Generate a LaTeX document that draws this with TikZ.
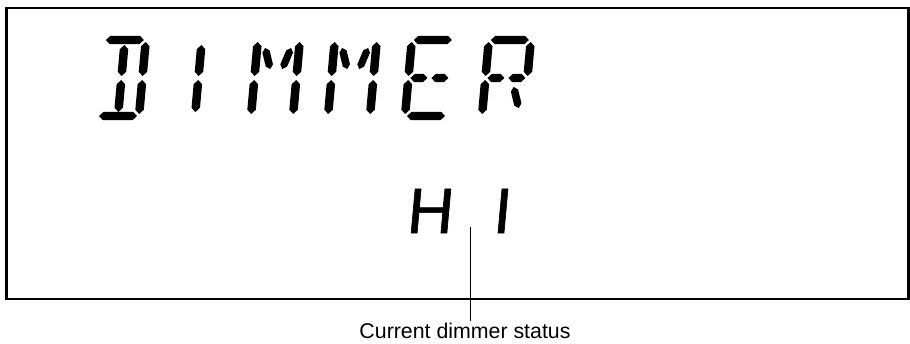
\documentclass[tikz,border=0pt]{standalone}
\usepackage{fontspec}
\setmainfont{Liberation Sans}
\newfontfamily\lcdfont[FakeSlant=0.09, FakeBold=1]{Liberation Sans}
\usetikzlibrary{calc}

% one display segment from tip (#2) to tip (#3), #1 = bevel size
\newcommand{\lcdseg}[3]{%
  \fill[lcd] (#2) -- ($(#2)!#1!45:(#3)$) -- ($(#3)!#1!-45:(#2)$) -- (#3)
    -- ($(#3)!#1!45:(#2)$) -- ($(#2)!#1!-45:(#3)$) -- cycle;}

% segments of one cell (upright, v up)
\newcommand{\sgA}{\lcdseg{4.5pt}{2,76}{40,76}}
\newcommand{\sgB}{\lcdseg{4.5pt}{42,74}{42,40}}
\newcommand{\sgC}{\lcdseg{4.5pt}{42,36}{42,2}}
\newcommand{\sgD}{\lcdseg{4.5pt}{2,0}{40,0}}
\newcommand{\sgE}{\lcdseg{4.5pt}{0,2}{0,36}}
\newcommand{\sgF}{\lcdseg{4.5pt}{0,40}{0,74}}
\newcommand{\sgGl}{\lcdseg{4.5pt}{2,38}{19,38}}
\newcommand{\sgGr}{\lcdseg{4.5pt}{23,38}{40,38}}
\newcommand{\sgH}{\lcdseg{3.9pt}{8,68}{15,47}}
\newcommand{\sgI}{\lcdseg{4.5pt}{21,71}{21,40}}
\newcommand{\sgJ}{\lcdseg{3.9pt}{34,68}{27,47}}
\newcommand{\sgL}{\lcdseg{4.5pt}{21,36}{21,4}}
\newcommand{\sgM}{\lcdseg{3.9pt}{29,29}{36,8}}

\begin{document}
\begin{tikzpicture}[x=0.75pt, y=-0.75pt]
  \tikzset{
    lcd/.style={fill=black},
    cell/.style={x=0.75pt, y=0.75pt, xslant=0.09},
    frame/.style={line width=2.2pt},
    leader/.style={line width=0.7pt},
    lcdtext/.style={font=\lcdfont\fontsize{48}{50}\selectfont, inner sep=0pt, anchor=base},
    labeltext/.style={font=\fontsize{16}{19}\selectfont, inner sep=0pt, outer sep=1.5pt, anchor=base},
    charD/.pic={\begin{scope}[cell]\sgA\sgB\sgC\sgD\sgI\sgL\end{scope}},
    charI/.pic={\begin{scope}[cell]\sgI\sgL\end{scope}},
    charM/.pic={\begin{scope}[cell]\sgB\sgC\sgE\sgF\sgH\sgJ\end{scope}},
    charE/.pic={\begin{scope}[cell]\sgA\sgD\sgE\sgF\sgGl\sgGr\end{scope}},
    charR/.pic={\begin{scope}[cell]\sgA\sgB\sgE\sgF\sgGl\sgGr\sgM\end{scope}},
  }
  \useasboundingbox (0,0) rectangle (910,343);

  % display frame
  \draw[frame] (6.7,8) rectangle (908.5,299);

  % upper line
  \pic at (97,116) {charD};
  \pic at (174,116) {charI};
  \pic at (251,116) {charM};
  \pic at (328,116) {charM};
  \pic at (405,116) {charE};
  \pic at (482,116) {charR};

  % lower line
  \node[lcdtext] (hiH) at (429,233) {H};
  \node[lcdtext] (hiI) at (501,233) {I};

  % callout
  \coordinate (hiTick) at (470,227);
  \node[labeltext] (status) at (465,338.5) {Current dimmer status};
  \draw[leader] (hiTick) -- (hiTick |- status.north);
\end{tikzpicture}
\end{document}
